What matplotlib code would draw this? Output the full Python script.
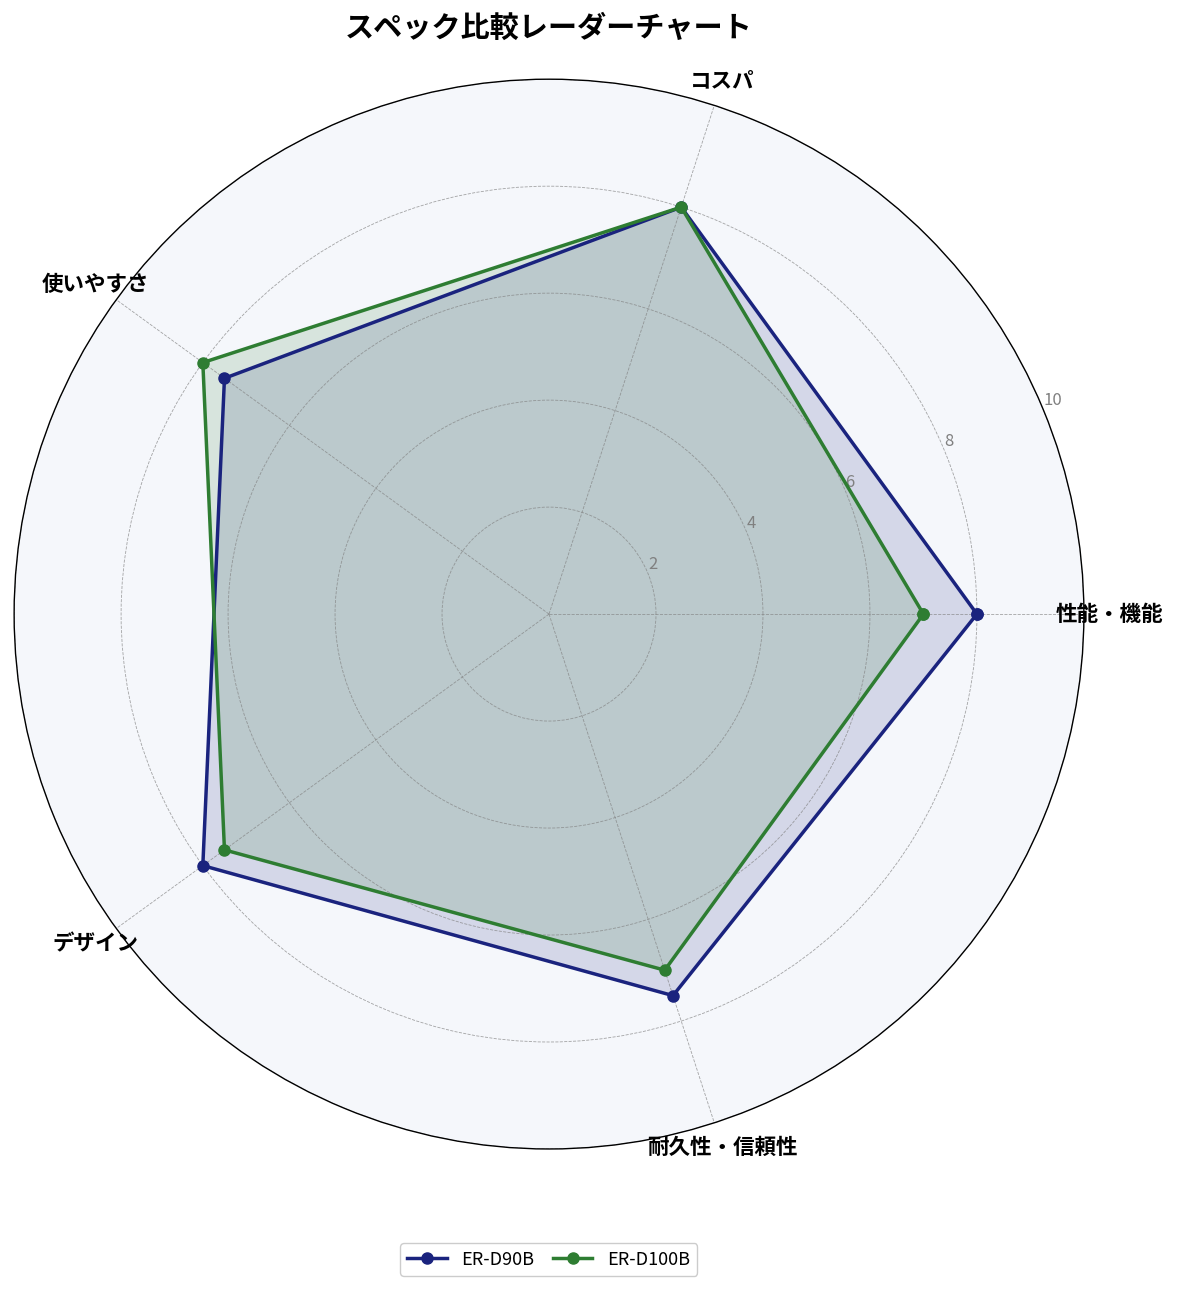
import matplotlib
matplotlib.use('Agg')
import matplotlib.pyplot as plt
import numpy as np

plt.rcParams['font.family'] = ['Noto Sans CJK JP', 'DejaVu Sans']

categories = ["性能・機能", "コスパ", "使いやすさ", "デザイン", "耐久性・信頼性"]
d90b = [8, 8, 7.5, 8, 7.5]
d100b = [7, 8, 8, 7.5, 7]
series_names = ["ER-D90B", "ER-D100B"]
r_ticks = [2, 4, 6, 8, 10]

navy = "#1a237e"
green = "#2e7d32"

angles = np.linspace(0, 2 * np.pi, len(categories), endpoint=False)
closed = np.concatenate([angles, angles[:1]])

fig = plt.figure(figsize=(11.85, 12.92), dpi=100)
ax = fig.add_axes([0.0118, 0.1107, 0.903, 0.828], projection='polar')
ax.set_facecolor("#f5f7fb")

for vals, name, col in [(d90b, series_names[0], navy), (d100b, series_names[1], green)]:
    v = np.concatenate([vals, vals[:1]])
    ax.plot(closed, v, color=col, linewidth=2.5, marker='o', markersize=8, label=name)
    ax.fill(closed, v, color=col, alpha=0.15)

ax.set_ylim(0, 10)
ax.set_yticks(r_ticks)
ax.set_yticklabels([str(t) for t in r_ticks], color="gray", fontsize=12)
ax.set_rlabel_position(22.5)
ax.set_xticks(angles)
ax.set_xticklabels(categories, fontsize=15.5, fontweight='bold')
ax.tick_params(axis='x', pad=8)
ax.grid(color="gray", linestyle='--', linewidth=0.6, alpha=0.7)
ax.spines['polar'].set_color('black')
ax.spines['polar'].set_linewidth(1.0)

fig.text(549 / 1185, 1 - 28 / 1292, "スペック比較レーダーチャート", fontsize=21,
         fontweight='bold', ha='center', va='center')
fig.legend(loc='center', bbox_to_anchor=(0.463, 0.025), ncol=2, fontsize=13,
           framealpha=1.0, edgecolor='#cccccc', handlelength=2.2,
           columnspacing=1.0)

fig.savefig("out.png", dpi=100)
plt.close()
